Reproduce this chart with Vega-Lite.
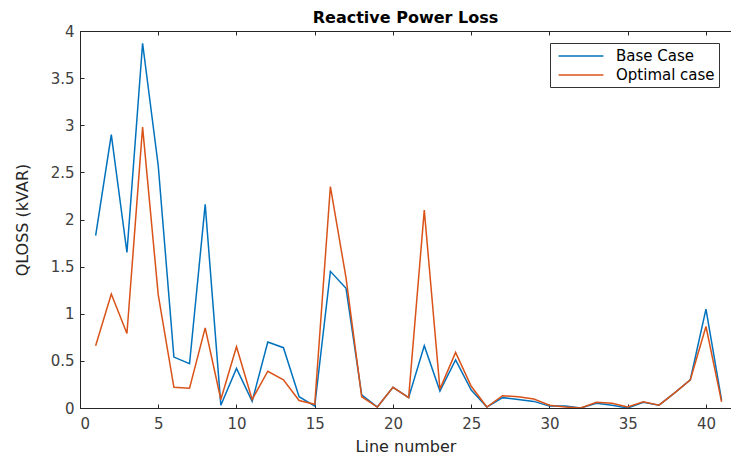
{
  "$schema": "https://vega.github.io/schema/vega-lite/v6.json",
  "width": 651,
  "height": 377,
  "autosize": "none",
  "padding": {"left": 80, "top": 31, "right": 0, "bottom": 52},
  "background": "white",
  "title": {"text": "Reactive Power Loss", "font": "DejaVu Sans", "fontSize": 16, "fontWeight": "bold", "color": "black", "offset": -2, "anchor": "middle"},
  "config": {
    "view": {"stroke": "#262626", "strokeWidth": 1},
    "axis": {"domainColor": "#262626", "tickColor": "#262626", "labelColor": "#404040", "titleColor": "#262626", "labelFont": "DejaVu Sans", "titleFont": "DejaVu Sans", "labelFontSize": 15, "titleFontSize": 16, "titleFontWeight": "normal", "grid": false, "tickSize": -4}
  },
  "data": {"values": [
    {"line": 1, "case": "Base Case", "q": 1.83}, {"line": 1, "case": "Optimal case", "q": 0.66},
    {"line": 2, "case": "Base Case", "q": 2.9}, {"line": 2, "case": "Optimal case", "q": 1.21},
    {"line": 3, "case": "Base Case", "q": 1.65}, {"line": 3, "case": "Optimal case", "q": 0.79},
    {"line": 4, "case": "Base Case", "q": 3.87}, {"line": 4, "case": "Optimal case", "q": 2.98},
    {"line": 5, "case": "Base Case", "q": 2.57}, {"line": 5, "case": "Optimal case", "q": 1.2},
    {"line": 6, "case": "Base Case", "q": 0.54}, {"line": 6, "case": "Optimal case", "q": 0.22},
    {"line": 7, "case": "Base Case", "q": 0.47}, {"line": 7, "case": "Optimal case", "q": 0.21},
    {"line": 8, "case": "Base Case", "q": 2.16}, {"line": 8, "case": "Optimal case", "q": 0.85},
    {"line": 9, "case": "Base Case", "q": 0.03}, {"line": 9, "case": "Optimal case", "q": 0.09},
    {"line": 10, "case": "Base Case", "q": 0.42}, {"line": 10, "case": "Optimal case", "q": 0.65},
    {"line": 11, "case": "Base Case", "q": 0.07}, {"line": 11, "case": "Optimal case", "q": 0.09},
    {"line": 12, "case": "Base Case", "q": 0.7}, {"line": 12, "case": "Optimal case", "q": 0.39},
    {"line": 13, "case": "Base Case", "q": 0.64}, {"line": 13, "case": "Optimal case", "q": 0.3},
    {"line": 14, "case": "Base Case", "q": 0.12}, {"line": 14, "case": "Optimal case", "q": 0.08},
    {"line": 15, "case": "Base Case", "q": 0.02}, {"line": 15, "case": "Optimal case", "q": 0.04},
    {"line": 16, "case": "Base Case", "q": 1.45}, {"line": 16, "case": "Optimal case", "q": 2.35},
    {"line": 17, "case": "Base Case", "q": 1.27}, {"line": 17, "case": "Optimal case", "q": 1.38},
    {"line": 18, "case": "Base Case", "q": 0.14}, {"line": 18, "case": "Optimal case", "q": 0.12},
    {"line": 19, "case": "Base Case", "q": 0.01}, {"line": 19, "case": "Optimal case", "q": 0.01},
    {"line": 20, "case": "Base Case", "q": 0.22}, {"line": 20, "case": "Optimal case", "q": 0.22},
    {"line": 21, "case": "Base Case", "q": 0.11}, {"line": 21, "case": "Optimal case", "q": 0.11},
    {"line": 22, "case": "Base Case", "q": 0.66}, {"line": 22, "case": "Optimal case", "q": 2.1},
    {"line": 23, "case": "Base Case", "q": 0.18}, {"line": 23, "case": "Optimal case", "q": 0.2},
    {"line": 24, "case": "Base Case", "q": 0.51}, {"line": 24, "case": "Optimal case", "q": 0.59},
    {"line": 25, "case": "Base Case", "q": 0.19}, {"line": 25, "case": "Optimal case", "q": 0.23},
    {"line": 26, "case": "Base Case", "q": 0.01}, {"line": 26, "case": "Optimal case", "q": 0.01},
    {"line": 27, "case": "Base Case", "q": 0.11}, {"line": 27, "case": "Optimal case", "q": 0.13},
    {"line": 28, "case": "Base Case", "q": 0.09}, {"line": 28, "case": "Optimal case", "q": 0.12},
    {"line": 29, "case": "Base Case", "q": 0.07}, {"line": 29, "case": "Optimal case", "q": 0.095},
    {"line": 30, "case": "Base Case", "q": 0.02}, {"line": 30, "case": "Optimal case", "q": 0.03},
    {"line": 31, "case": "Base Case", "q": 0.02}, {"line": 31, "case": "Optimal case", "q": 0.01},
    {"line": 32, "case": "Base Case", "q": 0.0}, {"line": 32, "case": "Optimal case", "q": 0.0},
    {"line": 33, "case": "Base Case", "q": 0.05}, {"line": 33, "case": "Optimal case", "q": 0.06},
    {"line": 34, "case": "Base Case", "q": 0.03}, {"line": 34, "case": "Optimal case", "q": 0.05},
    {"line": 35, "case": "Base Case", "q": 0.0}, {"line": 35, "case": "Optimal case", "q": 0.01},
    {"line": 36, "case": "Base Case", "q": 0.06}, {"line": 36, "case": "Optimal case", "q": 0.065},
    {"line": 37, "case": "Base Case", "q": 0.03}, {"line": 37, "case": "Optimal case", "q": 0.03},
    {"line": 38, "case": "Base Case", "q": 0.16}, {"line": 38, "case": "Optimal case", "q": 0.16},
    {"line": 39, "case": "Base Case", "q": 0.3}, {"line": 39, "case": "Optimal case", "q": 0.3},
    {"line": 40, "case": "Base Case", "q": 1.05}, {"line": 40, "case": "Optimal case", "q": 0.865},
    {"line": 41, "case": "Base Case", "q": 0.08}, {"line": 41, "case": "Optimal case", "q": 0.065}
  ]},
  "layer": [
    {
      "mark": {"type": "line", "strokeWidth": 1.5, "clip": true},
      "encoding": {
        "x": {"field": "line", "type": "quantitative", "scale": {"domain": [0, 41.6], "nice": false, "zero": false},
              "axis": {"values": [0, 5, 10, 15, 20, 25, 30, 35, 40], "title": "Line number", "labelPadding": 12, "titlePadding": 7}},
        "y": {"field": "q", "type": "quantitative", "scale": {"domain": [0, 4], "nice": false},
              "axis": {"values": [0, 0.5, 1, 1.5, 2, 2.5, 3, 3.5, 4], "format": "~g", "title": "QLOSS (kVAR)", "labelPadding": 10, "titlePadding": 20}},
        "color": {"field": "case", "type": "nominal",
                  "scale": {"domain": ["Base Case", "Optimal case"], "range": ["#0072BD", "#D95319"]},
                  "legend": {"orient": "top-right", "offset": 12, "title": null, "strokeColor": "#333333", "fillColor": "white", "padding": 4, "labelFont": "DejaVu Sans", "labelFontSize": 15, "labelColor": "black", "symbolType": "M-2.8,0H2.8", "symbolSize": 256, "symbolOffset": 18, "symbolStrokeWidth": 1.5, "rowPadding": 2, "labelOffset": 26}}
      }
    },
    {
      "mark": {"type": "rule", "opacity": 0},
      "encoding": {
        "x": {"field": "line", "type": "quantitative", "axis": {"orient": "top", "values": [0, 5, 10, 15, 20, 25, 30, 35, 40], "labels": false, "title": null, "domain": true}}
      }
    }
  ],
  "resolve": {"axis": {"x": "independent"}}
}
